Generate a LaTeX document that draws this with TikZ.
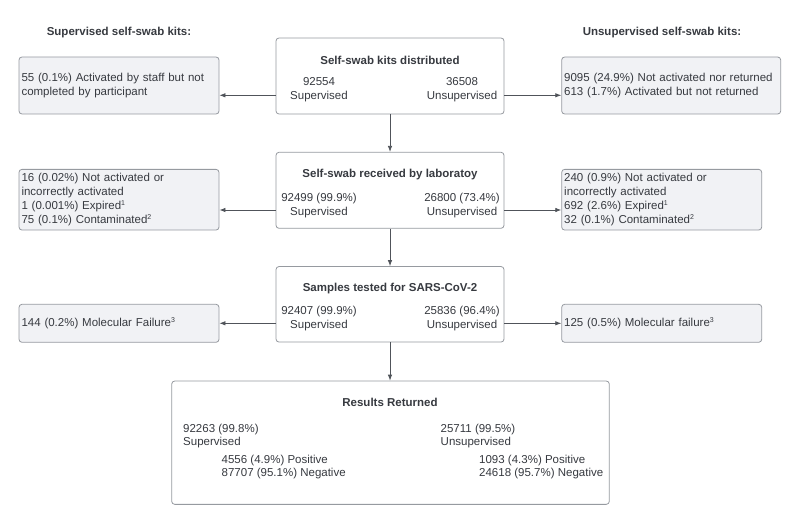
\documentclass[tikz,border=0pt]{standalone}
\usepackage{fontspec}
\setmainfont{Liberation Sans}
\usetikzlibrary{arrows.meta}
\definecolor{txt}{RGB}{55,58,64}
\definecolor{edge}{RGB}{150,154,160}
\definecolor{grayfill}{RGB}{241,242,245}
\definecolor{arr}{RGB}{80,84,90}
\tikzset{
  base/.style={font=\fontsize{11.5}{13.8}\selectfont, text=txt},
  mainbox/.style={draw=edge, line width=0.8pt, fill=white, rounded corners=3pt, inner sep=0pt},
  sidebox/.style={base, draw=edge, line width=0.8pt, fill=grayfill, rounded corners=3pt,
    inner xsep=2.5pt, inner ysep=0pt, align=left},
  ttl/.style={base, font=\fontsize{11.5}{13.8}\selectfont\bfseries, inner sep=0pt},
  ctxt/.style={base, align=center, inner sep=0pt},
  ltxt/.style={base, align=left, inner sep=0pt, anchor=west},
  flow/.style={draw=arr, line width=0.8pt, -{Latex[length=6pt,width=4.5pt]}}
}
\begin{document}
\begin{tikzpicture}[x=1pt,y=-1pt]
\useasboundingbox (0,0) rectangle (800,524);

% headings
\node[ttl] (hl) at (119,33) {Supervised self-swab kits:};
\node[ttl] (hr) at (662,33) {Unsupervised self-swab kits:};

% main boxes
\node[mainbox, minimum width=228pt, minimum height=76pt] (b1) at (390,76) {};
\node[mainbox, minimum width=228pt, minimum height=76pt] (b2) at (390,190.3) {};
\node[mainbox, minimum width=228pt, minimum height=75.5pt] (b3) at (390,304.3) {};
\node[mainbox, minimum width=437.6pt, minimum height=123.3pt] (b4) at (390.5,442.7) {};

% box 1 text
\node[ttl] (t1) at (390,60) {Self-swab kits distributed};
\node[ctxt] (s1) at (319,90) {92554\\Supervised};
\node[ctxt] (u1) at (462,90) {36508\\Unsupervised};

% box 2 text
\node[ttl] (t2) at (390,174.3) {Self-swab received by laboratoy};
\node[ctxt] (s2) at (319,205.3) {92499 (99.9\%)\\Supervised};
\node[ctxt] (u2) at (462,205.3) {26800 (73.4\%)\\Unsupervised};

% box 3 text
\node[ttl] (t3) at (390,288.3) {Samples tested for SARS-CoV-2};
\node[ctxt] (s3) at (319,318.7) {92407 (99.9\%)\\Supervised};
\node[ctxt] (u3) at (462,318.7) {25836 (96.4\%)\\Unsupervised};

% box 4 text
\node[ttl] (t4) at (390,402.7) {Results Returned};
\node[ltxt] (s4) at (183,436) {92263 (99.8\%)\\Supervised};
\node[ltxt] (p4) at (221.5,467) {4556 (4.9\%) Positive\\87707 (95.1\%) Negative};
\node[ltxt] (u4) at (440.5,436) {25711 (99.5\%)\\Unsupervised};
\node[ltxt] (q4) at (479,467) {1093 (4.3\%) Positive\\24618 (95.7\%) Negative};

% side boxes
\node[sidebox, text width=195pt, minimum width=200pt, minimum height=57pt] (l1) at (119,85.5)
  {55 (0.1\%) Activated by staff but not\\completed by participant};
\node[sidebox, text width=214pt, minimum width=219pt, minimum height=57pt] (r1) at (671.2,85.5)
  {9095 (24.9\%) Not activated nor returned\\613 (1.7\%) Activated but not returned};
\node[sidebox, text width=195pt, minimum width=200pt, minimum height=60.7pt] (l2) at (119,199.7)
  {16 (0.02\%) Not activated or\\incorrectly activated\\1 (0.001\%) Expired\textsuperscript{\scriptsize 1}\\75 (0.1\%) Contaminated\textsuperscript{\scriptsize 2}};
\node[sidebox, text width=195pt, minimum width=200pt, minimum height=60.7pt] (r2) at (661.7,199.7)
  {240 (0.9\%) Not activated or\\incorrectly activated\\692 (2.6\%) Expired\textsuperscript{\scriptsize 1}\\32 (0.1\%) Contaminated\textsuperscript{\scriptsize 2}};
\node[sidebox, text width=195pt, minimum width=200pt, minimum height=38pt] (l3) at (119,323.3)
  {144 (0.2\%) Molecular Failure\textsuperscript{\scriptsize 3}};
\node[sidebox, text width=195pt, minimum width=200pt, minimum height=38pt] (r3) at (661.7,323.3)
  {125 (0.5\%) Molecular failure\textsuperscript{\scriptsize 3}};

% connectors
\draw[flow] (b1.west |- 0,95.3) -- (l1.east |- 0,95.3);
\draw[flow] (b1.east |- 0,95.3) -- (r1.west |- 0,95.3);
\draw[flow] (b2.west |- 0,210) -- (l2.east |- 0,210);
\draw[flow] (b2.east |- 0,210) -- (r2.west |- 0,210);
\draw[flow] (b3.west |- 0,323.3) -- (l3.east |- 0,323.3);
\draw[flow] (b3.east |- 0,323.3) -- (r3.west |- 0,323.3);
\draw[flow] (b1.south) -- (b2.north);
\draw[flow] (b2.south) -- (b3.north);
\draw[flow] (b3.south) -- (b3.south |- b4.north);
\end{tikzpicture}
\end{document}
